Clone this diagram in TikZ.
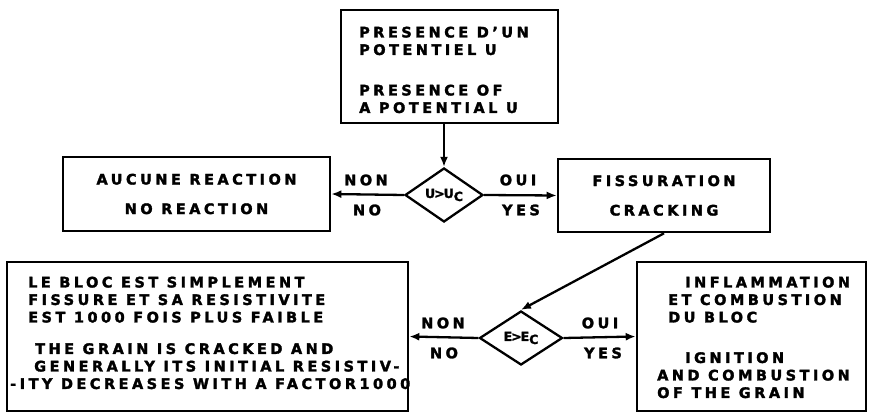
\documentclass[tikz,border=0pt]{standalone}
\usepackage{fontspec}
\setmainfont{DejaVu Sans}[LetterSpace=24,BoldFeatures={FakeBold=2}]
\usetikzlibrary{arrows.meta,shapes.geometric}
\begin{document}
\begin{tikzpicture}[x=1pt,y=-1pt,
  every node/.style={inner sep=0pt,font=\fontsize{14.5}{17.5}\selectfont\bfseries},
  boxnode/.style={draw,line width=2.6pt,rectangle},
  decision/.style={draw,line width=2.3pt,diamond,aspect=1.45,
    font=\fontsize{12.5}{15}\selectfont\bfseries},
  txt/.style={align=left,anchor=north west},
  lbl/.style={anchor=center},
  arr/.style={line width=2.3pt,-{Latex[length=10pt,width=8pt]}}]
\useasboundingbox (0,0) rectangle (872,414);
% boxes
\node[boxnode,minimum width=217pt,minimum height=113pt] (top) at (449.5,66.5) {};
\node[boxnode,minimum width=267pt,minimum height=74pt,align=center] (none) at (196.5,194)
  {AUCUNE REACTION\\[12pt]NO REACTION};
\node[boxnode,minimum width=212pt,minimum height=73pt,align=center] (crack) at (664,195.5)
  {FISSURATION\\[12pt]CRACKING};
\node[boxnode,minimum width=401pt,minimum height=149pt] (bl) at (207.5,336.5) {};
\node[boxnode,minimum width=229pt,minimum height=149pt] (br) at (751.5,336.5) {};
% decisions
\node[decision,minimum width=78pt,minimum height=54pt] (d1) at (444,195)
  {U\kern-1pt>\kern-1ptU\raisebox{-3pt}{C}};
\node[decision,minimum width=83pt,minimum height=54pt] (d2) at (521,338)
  {E\kern-1pt>\kern-1ptE\raisebox{-3pt}{C}};
% texts
\node[txt] (toptxt) at (359,26.5)
  {PRESENCE D'UN\\POTENTIEL U\\[23pt]PRESENCE OF\\A POTENTIAL U};
\node[txt] (bltxt) at (28,276.5)
  {LE BLOC EST SIMPLEMENT\\FISSURE ET SA RESISTIVITE\\EST 1000 FOIS PLUS FAIBLE\\[14pt]
   \hspace*{7pt}THE GRAIN IS CRACKED AND\\\hspace*{6pt}GENERALLY ITS INITIAL RESISTIV-\\
   \hspace*{-18pt}-ITY DECREASES WITH A FACTOR1000};
\node[txt] (brtxt) at (657,276.5)
  {\hspace*{28pt}INFLAMMATION\\\hspace*{11pt}ET COMBUSTION\\\hspace*{11pt}DU BLOC\\[23pt]
   \hspace*{28pt}IGNITION\\AND COMBUSTION\\OF THE GRAIN};
% labels
\node[lbl] (non1) at (366,180) {NON};
\node[lbl] (no1) at (367,210) {NO};
\node[lbl] (oui1) at (518,180) {OUI};
\node[lbl] (yes1) at (521,210) {YES};
\node[lbl] (non2) at (443,323) {NON};
\node[lbl] (no2) at (444,353) {NO};
\node[lbl] (oui2) at (600,323) {OUI};
\node[lbl] (yes2) at (603,353) {YES};
% connectors
\draw[arr] (d1 |- top.south) -- (d1.north);
\draw[arr] (d1.west) -- (none.east);
\draw[arr] (d1.east) -- (crack.west);
\draw[arr] (crack.south) -- (d2.north);
\draw[arr] (d2.west) -- (bl.east);
\draw[arr] (d2.east) -- (br.west);
\end{tikzpicture}
\end{document}
